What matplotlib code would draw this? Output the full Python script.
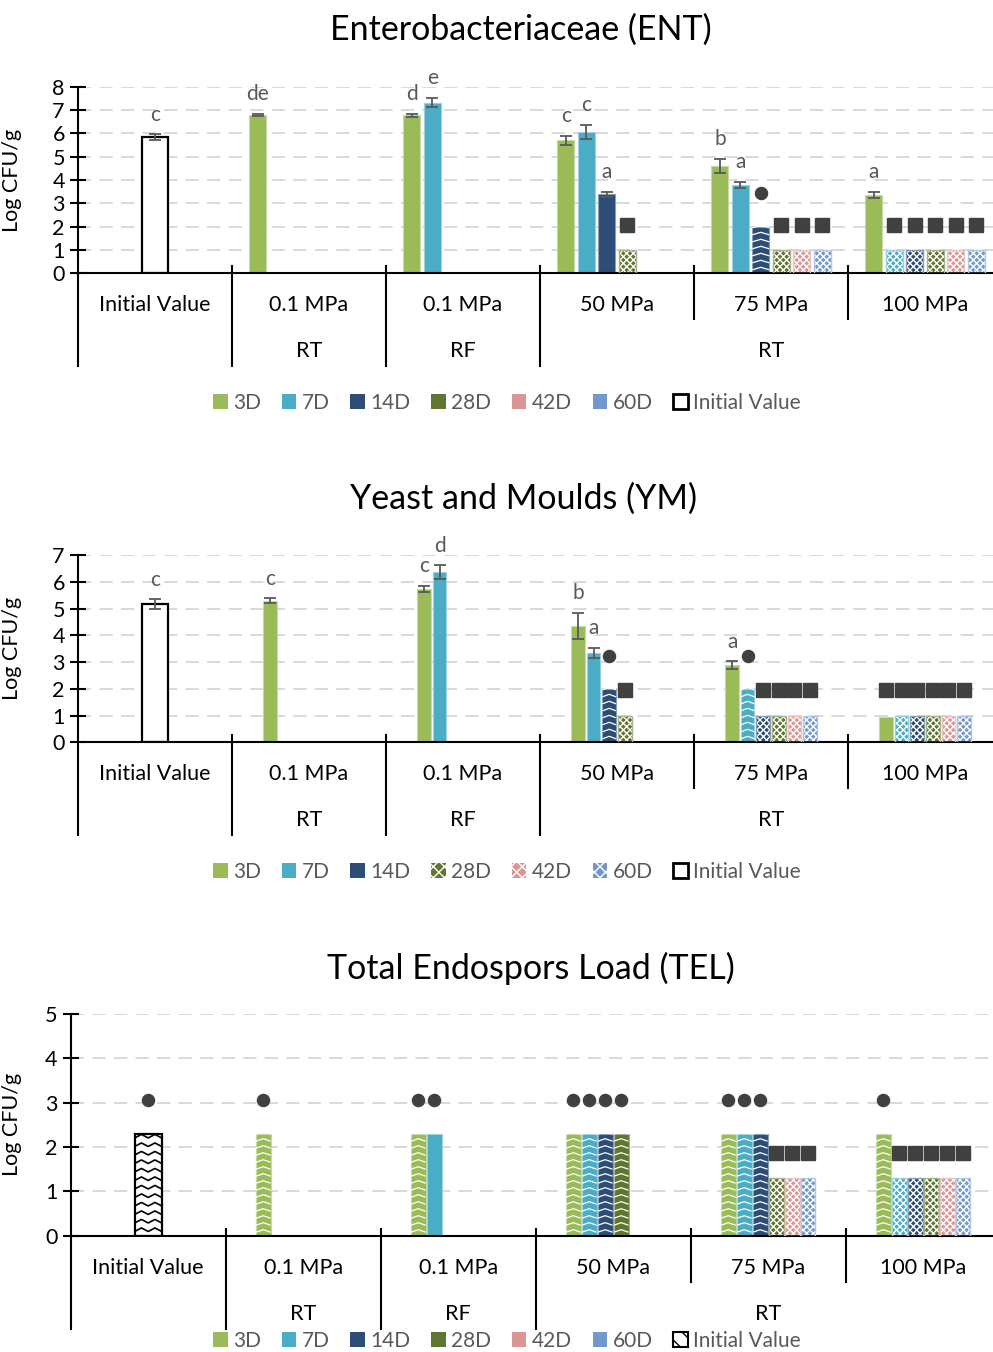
import numpy as np
import matplotlib.pyplot as plt
from matplotlib.patches import Patch
from matplotlib.lines import Line2D
from matplotlib.colors import to_rgb
from matplotlib.transforms import blended_transform_factory

plt.rcParams['font.family'] = ['Lato', 'DejaVu Sans']
plt.rcParams['hatch.linewidth'] = 1.0
plt.rcParams['lines.scale_dashes'] = False

W, H = 993, 1352

# ── Data ────────────────────────────────────────────────────────────────────
groups = ["Initial Value", "0.1 MPa", "0.1 MPa", "50 MPa", "75 MPa", "100 MPa"]
storage = [("RT", 1, 1), ("RF", 2, 2), ("RT", 3, 5)]
series = ["3D", "7D", "14D", "28D", "42D", "60D"]
colors = ["#9bbb59", "#4bacc6", "#2c4d75", "#5f7530", "#d99694", "#7399cc"]
nan = np.nan

# Enterobacteriaceae
ent_init = 5.83
ent_init_err = 0.13
ent_init_lab = "c"
ent_vals = {
    "3D":  [6.78, 6.78, 5.71, 4.60, 3.36],
    "7D":  [nan, 7.31, 6.07, 3.78, 1.0],
    "14D": [nan, nan, 3.39, 2.0, 1.0],
    "28D": [nan, nan, 1.0, 1.0, 1.0],
    "42D": [nan, nan, nan, 1.0, 1.0],
    "60D": [nan, nan, nan, 1.0, 1.0],
}
ent_err = {
    "3D": [0.05, 0.06, 0.19, 0.32, 0.12],
    "7D": [0, 0.20, 0.30, 0.13, 0],
    "14D": [0, 0, 0.10, 0, 0],
}
ent_lab = {
    "3D": ["de", "d", "c", "b", "a"],
    "7D": ["", "e", "c", "a", ""],
    "14D": ["", "", "a", "", ""],
}
# S solid, C checker, W wave
ent_fill = {"3D": "SSSSS", "7D": ".SSSC", "14D": "..SWC",
            "28D": "..CCC", "42D": "...CC", "60D": "...CC"}
# o circle, s square above bar
ent_mark = {"3D": "-----", "7D": "----s", "14D": "---os",
            "28D": "--sss", "42D": "---ss", "60D": "---ss"}
ent_circle_y = 3.43
ent_square_y = 2.07

# Yeast and Moulds
ym_init = 5.17
ym_init_err = 0.17
ym_init_lab = "c"
ym_vals = {
    "3D":  [5.29, 5.72, 4.36, 2.89, 0.96],
    "7D":  [nan, 6.35, 3.33, 2.0, 1.0],
    "14D": [nan, nan, 2.0, 1.0, 1.0],
    "28D": [nan, nan, 1.0, 1.0, 1.0],
    "42D": [nan, nan, nan, 1.0, 1.0],
    "60D": [nan, nan, nan, 1.0, 1.0],
}
ym_err = {
    "3D": [0.09, 0.12, 0.49, 0.14, 0],
    "7D": [0, 0.26, 0.19, 0, 0],
}
ym_lab = {
    "3D": ["c", "c", "b", "a", ""],
    "7D": ["", "d", "a", "", ""],
}
ym_fill = {"3D": "SSSSS", "7D": ".SSWC", "14D": "..WCC",
           "28D": "..CCC", "42D": "...CC", "60D": "...CC"}
ym_mark = {"3D": "----s", "7D": "---os", "14D": "--oss",
           "28D": "--sss", "42D": "---ss", "60D": "---ss"}
ym_circle_y = 3.22
ym_square_y = 1.95

# Total Endospors Load
tel_init = 2.3
tel_vals = {
    "3D":  [2.3, 2.3, 2.3, 2.3, 2.3],
    "7D":  [nan, 2.3, 2.3, 2.3, 1.3],
    "14D": [nan, nan, 2.3, 2.3, 1.3],
    "28D": [nan, nan, 2.3, 1.3, 1.3],
    "42D": [nan, nan, nan, 1.3, 1.3],
    "60D": [nan, nan, nan, 1.3, 1.3],
}
tel_fill = {"3D": "WWWWW", "7D": ".SWWC", "14D": "..WWC",
            "28D": "..WCC", "42D": "...CC", "60D": "...CC"}
tel_mark = {"3D": "ooooo", "7D": "-ooos", "14D": "--oos",
            "28D": "--oss", "42D": "---ss", "60D": "---ss"}
tel_circle_y = 3.05
tel_square_y = 1.87

GREY = "#595959"
MARK = "#404040"


def lighten(c, f):
    r, g, b = to_rgb(c)
    return (r + (1 - r) * f, g + (1 - g) * f, b + (1 - b) * f)


def add_wave(ax, bar, color, sx, sy, step=7.0, amp=2.5, lw=0.9):
    x0 = bar.get_x()
    w = bar.get_width()
    h = bar.get_height()
    nper = max(1, int(round(w / sx / 14)))
    xs = np.linspace(x0, x0 + w, 2 * nper + 1)
    y = step * 0.5 * sy
    while y < h:
        ys = np.array([y + (amp * sy if k % 2 else 0) for k in range(len(xs))])
        ln = Line2D(xs, ys, color=color, lw=lw, solid_capstyle='butt')
        ln.set_clip_path(bar)
        ax.add_line(ln)
        y += step * sy


def draw_bar(ax, x, v, width, color, kind, sx, sy):
    edge = lighten(color, 0.45)
    if kind == "C":
        ax.bar(x, v, width, color=color, edgecolor="white", hatch="xxxxx", lw=0, zorder=2)
        ax.bar(x, v, width, fill=False, edgecolor=edge, lw=1.0, zorder=3)
    else:
        b = ax.bar(x, v, width, color=color, edgecolor=edge, lw=0.8, zorder=2)[0]
        if kind == "W":
            add_wave(ax, b, "white", sx, sy)


def panel(rect, ylim, xlim, title, title_xy, init, init_err, init_lab, init_w,
          vals, errs, labs, fills, marks, cy, sqy, spacing, width, wave_init,
          legend_y, hatched_legend, init_legend_hatch):
    bottom_px, top_px, left_px = rect
    ax = fig.add_axes([left_px / W, 1 - bottom_px / H, 1 - left_px / W,
                       (bottom_px - top_px) / H])
    ax.set_xlim(*xlim)
    ax.set_ylim(*ylim)
    h_px = bottom_px - top_px
    w_px = W - left_px
    sx = (xlim[1] - xlim[0]) / w_px
    sy = (ylim[1] - ylim[0]) / h_px

    # initial value bar
    b = ax.bar(0, init, init_w, color="white", edgecolor="black", lw=1.6, zorder=2)[0]
    if wave_init:
        add_wave(ax, b, "black", sx, sy, step=8.5, amp=3.5, lw=1.2)
    if init_err:
        ax.errorbar(0, init, yerr=init_err, fmt="none", ecolor=GREY, elinewidth=1.3,
                    capsize=4.5, capthick=1.3, zorder=4)
    if init_lab:
        ax.annotate(init_lab, (0, init + init_err), xytext=(0, 7), textcoords="offset points",
                    ha="center", va="bottom", color=GREY, fontsize=15)
    else:
        ax.plot(0, tel_circle_y, "o", color=MARK, ms=8.7, zorder=5)

    for j, s in enumerate(series):
        off = (j - 2.5) * spacing
        for g in range(5):
            v = vals[s][g]
            if np.isnan(v):
                continue
            x = g + 1 + off
            draw_bar(ax, x, v, width, colors[j], fills[s][g], sx, sy)
            e = errs.get(s, [0] * 5)[g]
            if e:
                ax.errorbar(x, v, yerr=e, fmt="none", ecolor=GREY, elinewidth=1.3,
                            capsize=4.5, capthick=1.3, zorder=4)
            lab = labs.get(s, [""] * 5)[g]
            if lab:
                ax.annotate(lab, (x, v + e), xytext=(0, 7), textcoords="offset points",
                            ha="center", va="bottom", color=GREY, fontsize=15)
            m = marks[s][g]
            if m == "o":
                ax.plot(x, cy, "o", color=MARK, ms=8.7, zorder=5)
            elif m == "s":
                ax.plot(x, sqy, "s", color=MARK, ms=9.7, zorder=5)

    # axes styling
    for sp in ["top", "right"]:
        ax.spines[sp].set_visible(False)
    ax.spines["left"].set_linewidth(1.5)
    ax.spines["bottom"].set_linewidth(1.5)
    ax.tick_params(axis="x", bottom=False, labelbottom=False)
    ax.tick_params(axis="y", direction="inout", length=11, width=1.5, labelsize=15.5,
                   pad=4)
    ax.set_yticks(range(int(ylim[0]), int(ylim[1]) + 1))
    ax.yaxis.grid(True, color="#d9d9d9", lw=1.4, linestyle=(0, (9.5, 6)))
    ax.set_axisbelow(True)
    ax.set_ylabel("Log CFU/g", fontsize=15.5)
    ax.yaxis.set_label_coords(-(left_px - 22) / w_px, 0.5)

    # multi-level category axis
    tr = blended_transform_factory(ax.transData, ax.transAxes)
    f = 1.0 / h_px
    for k in range(6):
        xb = k - 0.5
        depth = 93 if k <= 3 else 46
        top = 0 if k == 0 else 7
        ax.plot([xb, xb], [top * f, -depth * f], color="black", lw=1.5,
                transform=tr, clip_on=False)
    for g, name in enumerate(groups):
        ax.text(g, -32 * f, name, transform=tr, ha="center", va="center", fontsize=15.5)
    for name, g0, g1 in storage:
        ax.text((g0 + g1) / 2, -78 * f, name, transform=tr, ha="center", va="center",
                fontsize=15.5)

    fig.text(title_xy[0] / W, 1 - title_xy[1] / H, title, ha="center", va="center",
             fontsize=24.5)

    handles = []
    for j, s in enumerate(series):
        if hatched_legend and j >= 3:
            handles.append(Patch(facecolor=colors[j], edgecolor="white", hatch="xxx", lw=0))
        else:
            handles.append(Patch(facecolor=colors[j], edgecolor=colors[j], lw=0))
    if init_legend_hatch:
        handles.append(Patch(facecolor="white", edgecolor="black", hatch="\\\\", lw=1.5))
    else:
        handles.append(Patch(facecolor="white", edgecolor="black", lw=2))
    fig.legend(handles, series + ["Initial Value"], loc="center",
               bbox_to_anchor=(507 / W, 1 - legend_y / H), ncol=7, frameon=False,
               handlelength=0.7, handleheight=0.7, handletextpad=0.25,
               columnspacing=1.0, fontsize=15, labelcolor=GREY, borderpad=0)
    return ax


fig = plt.figure(figsize=(W / 100, H / 100), dpi=100)

xl12 = (-0.5, -0.5 + (W - 78) / 154)
xl3 = (-0.5, -0.5 + (W - 70.7) / 155)

panel((273.3, 86.7, 78), (0, 8), xl12, "Enterobacteriaceae (ENT)", (521, 30),
      ent_init, ent_init_err, ent_init_lab, 0.169,
      ent_vals, ent_err, ent_lab, ent_fill, ent_mark, ent_circle_y, ent_square_y,
      0.1328, 0.11, False, 403, False, False)

panel((742.3, 555, 78), (0, 7), xl12, "Yeast and Moulds (YM)", (524, 499),
      ym_init, ym_init_err, ym_init_lab, 0.169,
      ym_vals, ym_err, ym_lab, ym_fill, ym_mark, ym_circle_y, ym_square_y,
      0.101, 0.088, False, 872, True, False)

panel((1235.7, 1014, 70.7), (0, 5), xl3, "Total Endospors Load (TEL)", (531, 968),
      tel_init, 0, "", 0.174,
      tel_vals, {}, {}, tel_fill, tel_mark, tel_circle_y, tel_square_y,
      0.103, 0.095, True, 1341, False, True)

fig.savefig("out.png", dpi=100)
